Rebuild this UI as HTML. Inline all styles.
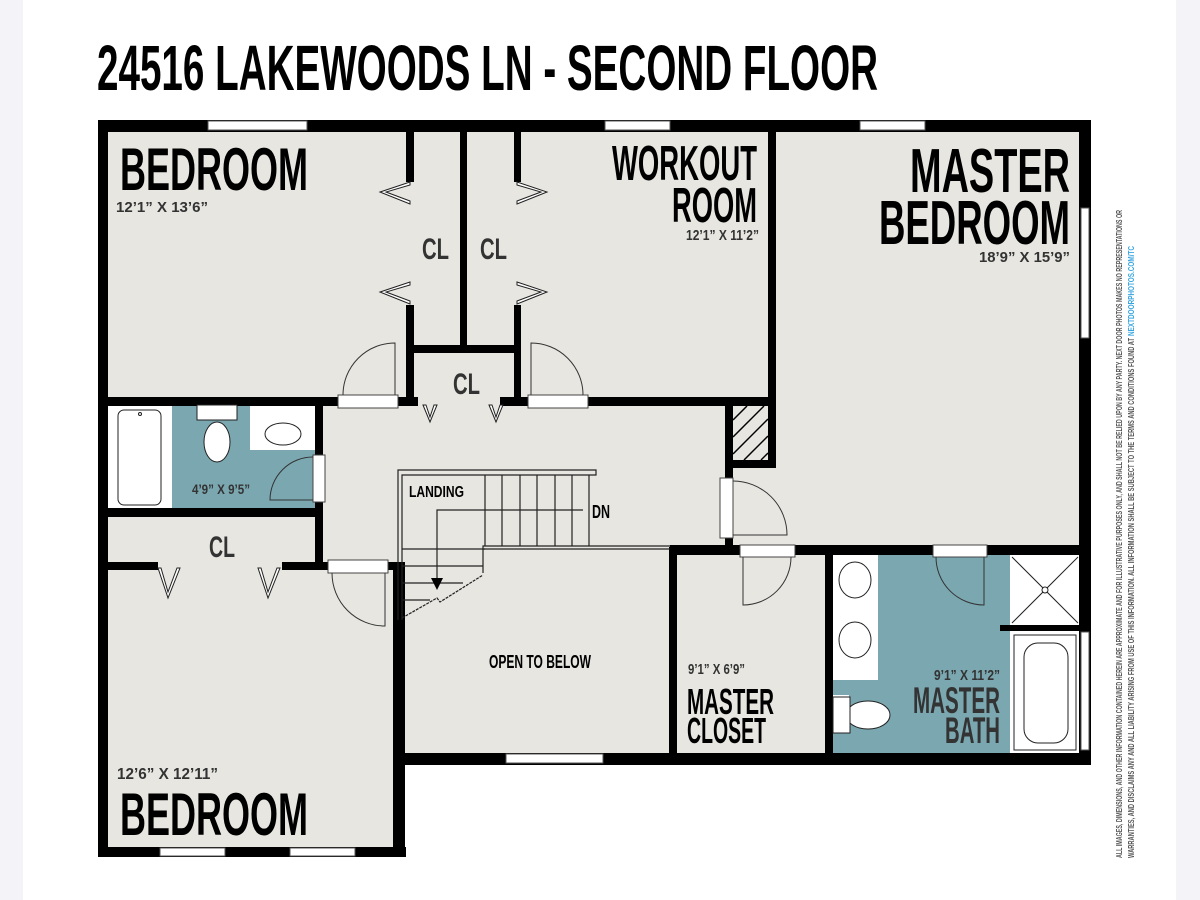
<!DOCTYPE html>
<html><head><meta charset="utf-8"><style>
html,body{margin:0;padding:0;background:#fff;}
svg{display:block;}
text{font-family:"Liberation Sans",sans-serif;font-weight:bold;}
</style></head><body>
<svg width="1200" height="900" viewBox="0 0 1200 900" xmlns="http://www.w3.org/2000/svg">
<rect x="0" y="0" width="1200" height="900" fill="#fff"/>
<rect x="0" y="0" width="23" height="900" fill="#f4f3f7"/>
<rect x="1176" y="0" width="24" height="900" fill="#f4f3f7"/>

<!-- title -->
<text x="97" y="90" font-size="64" textLength="781" lengthAdjust="spacingAndGlyphs" fill="#000">24516 LAKEWOODS LN - SECOND FLOOR</text>

<!-- floor fills -->
<rect x="100" y="120" width="990" height="645" fill="#e7e6e1"/>
<rect x="100" y="760" width="305" height="97" fill="#e7e6e1"/>
<!-- small bath -->
<rect x="108" y="405" width="210" height="103" fill="#7aa7b0"/>
<rect x="108" y="405" width="64" height="103" fill="#fff"/>
<rect x="250" y="405" width="65" height="45" fill="#fff"/>
<!-- master bath -->
<rect x="830" y="555" width="180" height="200" fill="#7aa7b0"/>
<rect x="833" y="555" width="45" height="125" fill="#fff"/>
<rect x="1010" y="555" width="70" height="200" fill="#fff"/>
<rect x="833" y="695" width="16" height="38" fill="#fff"/>

<g fill="#000">
<!-- outer walls -->
<rect x="98" y="120" width="992" height="12"/>
<rect x="98" y="120" width="10" height="737"/>
<rect x="1079" y="120" width="12" height="645"/>
<rect x="400" y="753" width="691" height="12"/>
<rect x="98" y="847" width="308" height="10"/>
<rect x="393" y="563" width="12" height="294"/>
<!-- closets top -->
<rect x="406" y="120" width="8" height="62"/>
<rect x="406" y="305" width="8" height="100"/>
<rect x="460" y="120" width="7" height="230"/>
<rect x="514" y="120" width="7" height="62"/>
<rect x="514" y="305" width="7" height="100"/>
<rect x="406" y="345" width="115" height="8"/>
<!-- horizontal corridor wall -->
<rect x="98" y="397" width="320" height="9"/>
<rect x="500" y="397" width="276" height="9"/>
<rect x="768" y="120" width="8" height="348"/>
<rect x="725" y="397" width="8" height="150"/>
<rect x="725" y="460" width="51" height="8"/>
<!-- small bath walls -->
<rect x="315" y="397" width="8" height="173"/>
<rect x="98" y="508" width="225" height="9"/>
<rect x="98" y="562" width="60" height="8"/>
<rect x="282" y="562" width="50" height="8"/>
<rect x="385" y="562" width="20" height="8"/>
<!-- open to below / master closet -->
<rect x="669" y="547" width="8" height="210"/>
<rect x="670" y="545" width="420" height="10"/>
<rect x="825" y="545" width="8" height="212"/>
<rect x="1000" y="625" width="80" height="6"/>
</g>

<!-- chimney hatch -->
<rect x="733" y="406" width="35" height="54" fill="#e7e6e1"/>
<g stroke="#000" stroke-width="1.5">
<line x1="733" y1="420" x2="747" y2="406"/><line x1="733" y1="437" x2="764" y2="406"/>
<line x1="733" y1="454" x2="768" y2="419"/><line x1="744" y1="460" x2="768" y2="436"/>
<line x1="761" y1="460" x2="768" y2="453"/>
</g>

<!-- windows -->
<g fill="#fff" stroke="#555" stroke-width="1">
<rect x="208" y="121" width="99" height="9"/>
<rect x="605" y="121" width="65" height="9"/>
<rect x="860" y="121" width="65" height="9"/>
<rect x="1081" y="208" width="8" height="130"/>
<rect x="1081" y="632" width="8" height="118"/>
<rect x="506" y="754" width="97" height="9"/>
<rect x="160" y="848" width="65" height="8"/>
<rect x="290" y="848" width="65" height="8"/>
</g>

<!-- doors -->
<g fill="#fff" stroke="#444" stroke-width="1">
<rect x="338" y="395" width="60" height="13"/>
<rect x="528" y="395" width="60" height="13"/>
<rect x="313" y="455" width="12" height="47"/>
<rect x="328" y="560" width="60" height="13"/>
<rect x="720" y="478" width="13" height="60"/>
<rect x="740" y="545" width="55" height="12"/>
<rect x="933" y="545" width="54" height="12"/>
</g>
<g fill="none" stroke="#333" stroke-width="1">
<path d="M395 395 V343 A52 52 0 0 0 343 395"/>
<path d="M531 395 V343 A52 52 0 0 1 583 395"/>
<path d="M313 500 H270 A43 43 0 0 1 313 457"/>
<path d="M385 573 V626 A53 53 0 0 1 332 573"/>
<path d="M733 535 H787 A54 54 0 0 0 733 481"/>
<path d="M743 557 V605 A48 48 0 0 0 791 557"/>
<path d="M984 557 V605 A48 48 0 0 1 936 557"/>
</g>
<!-- bifold closet doors -->
<g fill="#fff" stroke="#222" stroke-width="1">
<path d="M410 182 L380 192 L410 204 L410 201 L386 192 L410 185 Z"/>
<path d="M410 282 L380 292 L410 304 L410 301 L386 292 L410 285 Z"/>
<path d="M517 182 L547 192 L517 204 L517 201 L541 192 L517 185 Z"/>
<path d="M517 282 L547 292 L517 304 L517 301 L541 292 L517 285 Z"/>
<path d="M423 405 L430 422 L437 405 L434 405 L430 417 L426 405 Z"/>
<path d="M489 405 L496 422 L503 405 L500 405 L496 417 L492 405 Z"/>
<path d="M158 568 L168 598 L180 568 L177 568 L168 592 L161 568 Z"/>
<path d="M258 568 L268 598 L280 568 L277 568 L268 592 L261 568 Z"/>
</g>

<!-- fixtures -->
<g fill="#fff" stroke="#222" stroke-width="1">
<rect x="118" y="410" width="43" height="95" rx="6"/>
<rect x="197" y="405" width="40" height="15"/>
<ellipse cx="217" cy="442" rx="13" ry="20"/>
<ellipse cx="283" cy="434" rx="18" ry="11"/>
<ellipse cx="855" cy="580" rx="16" ry="18"/>
<ellipse cx="855" cy="640" rx="16" ry="18"/>
<ellipse cx="868" cy="715" rx="22" ry="14"/>
<rect x="833" y="697" width="17" height="36"/>
<rect x="1014" y="635" width="62" height="115"/>
<rect x="1024" y="643" width="44" height="100" rx="14"/>
<line x1="1012" y1="557" x2="1078" y2="623"/><line x1="1078" y1="557" x2="1012" y2="623"/>
<circle cx="1045" cy="590" r="3"/>
<circle cx="140" cy="414" r="1.5"/>
</g>

<!-- stairs -->
<g fill="none" stroke="#222" stroke-width="1.2">
<path d="M398 620 V470 H596 V475 H402 V620"/>
<line x1="485" y1="475" x2="485" y2="546"/><line x1="502" y1="475" x2="502" y2="546"/>
<line x1="520" y1="475" x2="520" y2="546"/><line x1="537" y1="475" x2="537" y2="546"/>
<line x1="555" y1="475" x2="555" y2="546"/><line x1="572" y1="475" x2="572" y2="546"/>
<line x1="589" y1="475" x2="589" y2="546"/>
<line x1="402" y1="549" x2="485" y2="549"/><line x1="402" y1="566" x2="483" y2="566"/>
<line x1="402" y1="583" x2="463" y2="583"/><line x1="402" y1="600" x2="430" y2="600"/>
<path d="M583 510 H437 V578"/>
<path d="M483 573 V546 H670 M483 549 H670"/>
<path d="M402 618 L437 598 L440 602 L483 575" stroke-dasharray="3 1"/>
</g>
<path d="M431 578 L443 578 L437 590 Z" fill="#000"/>

<!-- labels -->
<g fill="#000">
<text x="120" y="190" font-size="60" textLength="188" lengthAdjust="spacingAndGlyphs">BEDROOM</text>
<text x="612" y="180" font-size="49" textLength="145" lengthAdjust="spacingAndGlyphs">WORKOUT</text>
<text x="672" y="222" font-size="49" textLength="85" lengthAdjust="spacingAndGlyphs">ROOM</text>
<text x="910" y="192" font-size="62" textLength="160" lengthAdjust="spacingAndGlyphs">MASTER</text>
<text x="879" y="244" font-size="62" textLength="191" lengthAdjust="spacingAndGlyphs">BEDROOM</text>
<text x="120" y="835" font-size="60" textLength="188" lengthAdjust="spacingAndGlyphs">BEDROOM</text>
<text x="687" y="714" font-size="36" textLength="87" lengthAdjust="spacingAndGlyphs">MASTER</text>
<text x="687" y="743" font-size="36" textLength="79" lengthAdjust="spacingAndGlyphs">CLOSET</text>
<text x="409" y="497" font-size="16" textLength="55" lengthAdjust="spacingAndGlyphs">LANDING</text>
<text x="592" y="518" font-size="18" textLength="18" lengthAdjust="spacingAndGlyphs">DN</text>
<text x="489" y="668" font-size="18" textLength="102" lengthAdjust="spacingAndGlyphs">OPEN TO BELOW</text>
</g>
<g fill="#333">
<text x="913" y="713" font-size="37" textLength="87" lengthAdjust="spacingAndGlyphs">MASTER</text>
<text x="945" y="743" font-size="37" textLength="55" lengthAdjust="spacingAndGlyphs">BATH</text>
<text x="422" y="259" font-size="30" textLength="27" lengthAdjust="spacingAndGlyphs">CL</text>
<text x="480" y="259" font-size="30" textLength="27" lengthAdjust="spacingAndGlyphs">CL</text>
<text x="453" y="394" font-size="30" textLength="27" lengthAdjust="spacingAndGlyphs">CL</text>
<text x="209" y="557" font-size="30" textLength="26" lengthAdjust="spacingAndGlyphs">CL</text>
<text x="116" y="212" font-size="15" textLength="92" lengthAdjust="spacingAndGlyphs">12’1” X 13’6”</text>
<text x="686" y="240" font-size="15" textLength="73" lengthAdjust="spacingAndGlyphs">12’1” X 11’2”</text>
<text x="979" y="262" font-size="15" textLength="91" lengthAdjust="spacingAndGlyphs">18’9” X 15’9”</text>
<text x="192" y="494" font-size="14" textLength="58" lengthAdjust="spacingAndGlyphs">4’9” X 9’5”</text>
<text x="688" y="674" font-size="15" textLength="57" lengthAdjust="spacingAndGlyphs">9’1” X 6’9”</text>
<text x="934" y="680" font-size="15" textLength="66" lengthAdjust="spacingAndGlyphs">9’1” X 11’2”</text>
<text x="117" y="779" font-size="16" textLength="101" lengthAdjust="spacingAndGlyphs">12’6” X 12’11”</text>
</g>

<!-- disclaimer -->
<g font-size="8" fill="#555" style="font-weight:normal">
<text transform="translate(1122,858) rotate(-90)" textLength="648" lengthAdjust="spacingAndGlyphs">ALL IMAGES, DIMENSIONS, AND OTHER INFORMATION CONTAINED HEREIN ARE APPROXIMATE AND FOR ILLUSTRATIVE PURPOSES ONLY, AND SHALL NOT BE RELIED UPON BY ANY PARTY. NEXT DOOR PHOTOS MAKES NO REPRESENTATIONS OR</text>
<text transform="translate(1134,858) rotate(-90)" textLength="520" lengthAdjust="spacingAndGlyphs">WARRANTIES, AND DISCLAIMS ANY AND ALL LIABILITY ARISING FROM USE OF THIS INFORMATION. ALL INFORMATION SHALL BE SUBJECT TO THE TERMS AND CONDITIONS FOUND AT</text>
<text transform="translate(1134,336) rotate(-90)" textLength="90" lengthAdjust="spacingAndGlyphs" fill="#3aa6e0">NEXTDOORPHOTOS.COM/TC</text>
</g>
</svg>
</body></html>
